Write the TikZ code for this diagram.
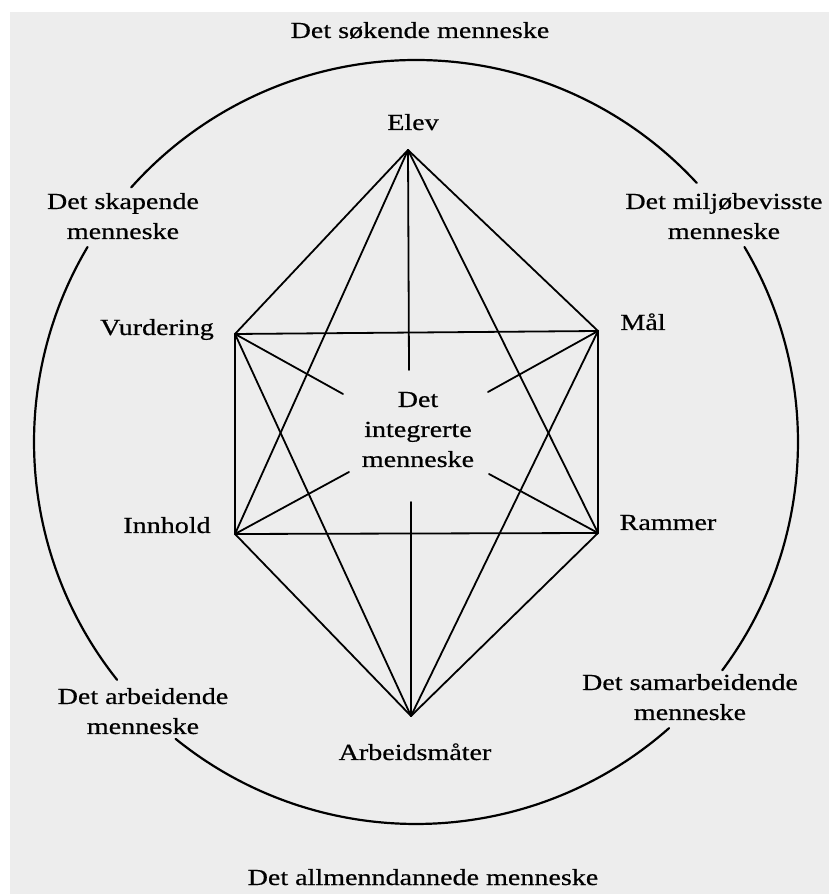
\documentclass[tikz,border=0pt]{standalone}
\usepackage{fontspec}
\setmainfont{Liberation Serif}[FakeStretch=1.22,FakeBold=0.6]
\begin{document}
\begin{tikzpicture}[x=1pt,y=1pt,
  lbl/.style={font=\fontsize{23}{30}\selectfont, align=center, inner sep=0pt, anchor=base},
  ln/.style={line width=1.8pt, line cap=round, line join=round},
  ring/.style={line width=2.2pt, line cap=round}]
\useasboundingbox (0,0) rectangle (829,894);
\fill[black!7] (10,0) rectangle (829,882);
% vertices
\coordinate (E) at (408,744);
\coordinate (V) at (235,560);
\coordinate (M) at (598,563);
\coordinate (I) at (235,360);
\coordinate (R) at (598,361);
\coordinate (A) at (411,178);
% stub ends
\coordinate (sE) at (409,524);
\coordinate (sA) at (411,392);
\coordinate (sV) at (343,500);
\coordinate (sM) at (488,502);
\coordinate (sI) at (349,422);
\coordinate (sR) at (489,420);
\coordinate (C) at (416,452);
% circle arcs
\draw[ring] (C) ++(42.7:382) arc[start angle=42.7, end angle=138.2, radius=382];
\draw[ring] (C) ++(149.3:382) arc[start angle=149.3, end angle=218.5, radius=382];
\draw[ring] (C) ++(231:382) arc[start angle=231, end angle=311.5, radius=382];
\draw[ring] (C) ++(-36.7:382) arc[start angle=-36.7, end angle=30.7, radius=382];
% rectangle
\draw[ln] (V) -- (M) -- (R) -- (I) -- cycle;
% from Elev
\draw[ln] (E) -- (V);
\draw[ln] (E) -- (M);
\draw[ln] (E) -- (I);
\draw[ln] (E) -- (R);
\draw[ln] (E) -- (sE);
% from Arbeidsmaater
\draw[ln] (A) -- (I);
\draw[ln] (A) -- (R);
\draw[ln] (A) -- (V);
\draw[ln] (A) -- (M);
\draw[ln] (A) -- (sA);
% stubs toward centre
\draw[ln] (V) -- (sV);
\draw[ln] (M) -- (sM);
\draw[ln] (I) -- (sI);
\draw[ln] (R) -- (sR);
% labels (multi-line nodes: base = last line)
\node[lbl] (tsok) at (420,856) {Det søkende menneske};
\node[lbl] (tel) at (413,764) {Elev};
\node[lbl] (tska) at (123,655) {Det skapende\\menneske};
\node[lbl] (tmil) at (724,655) {Det miljøbevisste\\menneske};
\node[lbl] (tvur) at (157,559) {Vurdering};
\node[lbl] (tmal) at (643,564) {Mål};
\node[lbl] (tint) at (418,427) {Det\\integrerte\\menneske};
\node[lbl] (tinn) at (167,361) {Innhold};
\node[lbl] (tram) at (668,364) {Rammer};
\node[lbl] (tarb) at (143,160) {Det arbeidende\\menneske};
\node[lbl] (tsam) at (690,174) {Det samarbeidende\\menneske};
\node[lbl] (tam) at (415,134) {Arbeidsmåter};
\node[lbl] (tall) at (423,9) {Det allmenndannede menneske};
\end{tikzpicture}
\end{document}
